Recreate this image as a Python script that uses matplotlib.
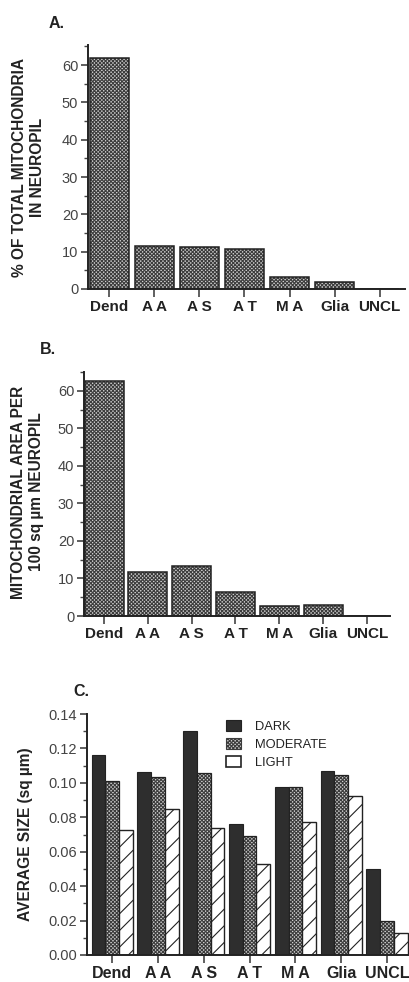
"""
Mitochondria in neuropil -- three stacked bar panels (A, B, C).
"""
import matplotlib
matplotlib.use("Agg")
import matplotlib.pyplot as plt
from matplotlib.patches import Patch
from matplotlib.ticker import MultipleLocator
import numpy as np

# ==================== DATA ====================
CATEGORIES = ["Dend", "A A", "A S", "A T", "M A", "Glia", "UNCL"]

# A. % of total mitochondria in neuropil
PCT_TOTAL = [62.0, 11.6, 11.3, 10.6, 3.2, 2.0, 0.0]

# B. mitochondrial area per 100 sq um neuropil
AREA_PER_100 = [62.5, 11.6, 13.2, 6.4, 2.7, 2.9, 0.0]

# C. average size (sq um) by staining class
SIZE_DARK     = [0.116, 0.1065, 0.130, 0.076, 0.0975, 0.107, 0.050]
SIZE_MODERATE = [0.101, 0.1035, 0.1055, 0.069, 0.0975, 0.1045, 0.020]
SIZE_LIGHT    = [0.0725, 0.085, 0.0735, 0.053, 0.077, 0.0925, 0.013]
SERIES_NAMES = ["DARK", "MODERATE", "LIGHT"]

# ==================== STYLE ====================
plt.rcParams['font.family'] = ['Liberation Sans', 'DejaVu Sans']
plt.rcParams['hatch.linewidth'] = 0.8

DARK_COL = '#2e2e2e'
CHECK_FACE = '#cfcfcf'
CHECK_LINE = '#3c3c3c'
CHECK_HATCH = 'xxxxxxxxx'
INK = '#222222'
TICK_COL = '#444444'

W = 409.0
H = 982.0


def checker_bar(ax, x, vals, width):
    # fill with the fine checker texture, then outline on top
    ax.bar(x, vals, width, color=CHECK_FACE, edgecolor=CHECK_LINE,
           hatch=CHECK_HATCH, linewidth=0)
    ax.bar(x, vals, width, fill=False, edgecolor=INK, linewidth=1.1)


def style_axis(ax, xlim, ylim, major, minor, fmt, xfs):
    for side in ('top', 'right'):
        ax.spines[side].set_visible(False)
    for side in ('left', 'bottom'):
        ax.spines[side].set_linewidth(1.4)
        ax.spines[side].set_color(INK)
    ax.set_xlim(*xlim)
    ax.set_ylim(*ylim)
    ax.yaxis.set_major_locator(MultipleLocator(major))
    ax.yaxis.set_minor_locator(MultipleLocator(minor))
    ax.yaxis.set_major_formatter(fmt)
    ax.set_xticks(np.arange(len(CATEGORIES)))
    ax.set_xticklabels(CATEGORIES, fontsize=xfs, fontweight='bold', color=INK)
    ax.tick_params(axis='y', which='major', length=5, width=1.2,
                   labelsize=10.5, colors=TICK_COL, pad=2)
    ax.tick_params(axis='y', which='minor', length=3, width=1.0, colors=TICK_COL)
    ax.tick_params(axis='x', which='major', length=6, width=1.2, pad=2,
                   colors=TICK_COL, labelcolor=INK)


def ylabel(xpx, ypx, text):
    fig.text(xpx / W, 1 - ypx / H, text, rotation=90, ha='center',
             va='center', fontsize=11.2, fontweight='bold', color=INK,
             linespacing=1.25, multialignment='center')


fig = plt.figure(figsize=(4.09, 9.82), dpi=100)
x = np.arange(len(CATEGORIES))

# ---- Panel A ----
axA = fig.add_axes([88 / W, 1 - 289 / H, (405 - 88) / W, (289 - 45) / H])
checker_bar(axA, x, PCT_TOTAL, 0.87)
style_axis(axA, (-0.47, 6.56), (0, 65.4), 10, 5, '{x:.0f}', 11)
ylabel(29, 167, "% OF TOTAL MITOCHONDRIA\nIN NEUROPIL")
fig.text(49 / W, 1 - 24 / H, "A.", fontsize=11.5, fontweight='bold',
         color=INK, va='center', ha='left')

# ---- Panel B ----
axB = fig.add_axes([84 / W, 1 - 616 / H, (390 - 84) / W, (616 - 371.7) / H])
checker_bar(axB, x, AREA_PER_100, 0.89)
style_axis(axB, (-0.46, 6.53), (0, 65.1), 10, 5, '{x:.0f}', 11)
ylabel(28, 492, "MITOCHONDRIAL AREA PER\n100 sq \u00b5m NEUROPIL")
fig.text(40 / W, 1 - 349 / H, "B.", fontsize=11.5, fontweight='bold',
         color=INK, va='center', ha='left')

# ---- Panel C ----
axC = fig.add_axes([87 / W, 1 - 955 / H, (409 - 87) / W, (955 - 714) / H])
bw = 0.30
axC.bar(x - bw, SIZE_DARK, bw, color=DARK_COL, edgecolor=INK, linewidth=0.8)
axC.bar(x, SIZE_MODERATE, bw, color=CHECK_FACE, edgecolor=CHECK_LINE,
        hatch=CHECK_HATCH, linewidth=0)
axC.bar(x, SIZE_MODERATE, bw, fill=False, edgecolor=INK, linewidth=0.9)
axC.bar(x + bw, SIZE_LIGHT, bw, color='white', edgecolor=INK,
        hatch='//', linewidth=1.0)
style_axis(axC, (-0.55, 6.48), (0, 0.14), 0.02, 0.01, '{x:.2f}', 11.5)
ylabel(26, 834, "AVERAGE SIZE (sq \u00b5m)")
fig.text(73 / W, 1 - 691 / H, "C.", fontsize=11.5, fontweight='bold',
         color=INK, va='center', ha='left')

handles = [
    Patch(facecolor=DARK_COL, edgecolor=INK, linewidth=0.8),
    Patch(facecolor=CHECK_FACE, edgecolor=CHECK_LINE, hatch=CHECK_HATCH, linewidth=0.8),
    Patch(facecolor='white', edgecolor=INK, linewidth=1.2),
]
fig.legend(handles, SERIES_NAMES, loc='upper left',
           bbox_to_anchor=(226 / W, 1 - 720 / H), frameon=False,
           fontsize=9.3, handlelength=1.15, handleheight=0.9,
           handletextpad=1.1, labelspacing=0.4, borderpad=0,
           borderaxespad=0, labelcolor=INK)

plt.savefig("out.png", dpi=100)
plt.close()
